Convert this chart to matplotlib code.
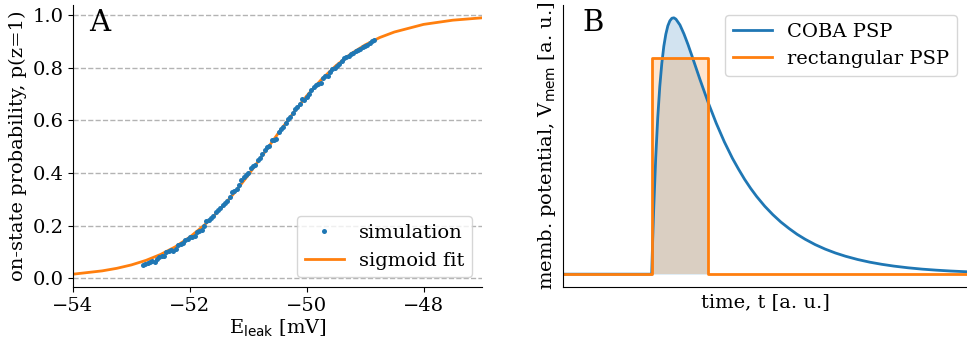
import matplotlib
matplotlib.use("Agg")
import matplotlib.pyplot as plt
import numpy as np

plt.rcParams["font.family"] = ["DejaVu Serif"]
plt.rcParams["font.size"] = 14
plt.rcParams["mathtext.fontset"] = "dejavusans"

# --- panel A: on-state probability vs leak potential ---
sim_e = [-52.80, -52.76, -52.72, -52.68, -52.64, -52.60, -52.56, -52.52, -52.48, -52.44,
         -52.40, -52.36, -52.32, -52.28, -52.24, -52.20, -52.16, -52.12, -52.08, -52.04,
         -52.00, -51.96, -51.92, -51.88, -51.84, -51.80, -51.76, -51.72, -51.68, -51.64,
         -51.60, -51.56, -51.52, -51.48, -51.44, -51.40, -51.36, -51.32, -51.28, -51.24,
         -51.20, -51.16, -51.12, -51.08, -51.04, -51.00, -50.96, -50.92, -50.88, -50.84,
         -50.80, -50.76, -50.72, -50.68, -50.64, -50.60, -50.56, -50.52, -50.48, -50.44,
         -50.40, -50.36, -50.32, -50.28, -50.24, -50.20, -50.16, -50.12, -50.08, -50.04,
         -50.00, -49.96, -49.92, -49.88, -49.84, -49.80, -49.76, -49.72, -49.68, -49.64,
         -49.60, -49.56, -49.52, -49.48, -49.44, -49.40, -49.36, -49.32, -49.28, -49.24,
         -49.20, -49.16, -49.12, -49.08, -49.04, -49.00, -48.96, -48.92, -48.88, -48.84]
sim_p = [0.050, 0.054, 0.058, 0.063, 0.066, 0.061, 0.072, 0.079, 0.083, 0.086,
         0.098, 0.104, 0.106, 0.104, 0.112, 0.125, 0.131, 0.135, 0.144, 0.149,
         0.155, 0.158, 0.160, 0.176, 0.181, 0.183, 0.197, 0.217, 0.222, 0.229,
         0.236, 0.252, 0.258, 0.265, 0.280, 0.286, 0.294, 0.310, 0.327, 0.330,
         0.338, 0.355, 0.372, 0.386, 0.392, 0.398, 0.420, 0.428, 0.432, 0.449,
         0.458, 0.472, 0.486, 0.497, 0.504, 0.525, 0.526, 0.528, 0.556, 0.566,
         0.574, 0.590, 0.605, 0.612, 0.628, 0.645, 0.650, 0.662, 0.680, 0.676,
         0.688, 0.702, 0.714, 0.728, 0.736, 0.740, 0.744, 0.762, 0.768, 0.770,
         0.784, 0.795, 0.801, 0.808, 0.814, 0.826, 0.838, 0.840, 0.845, 0.851,
         0.856, 0.862, 0.868, 0.873, 0.880, 0.884, 0.886, 0.895, 0.903, 0.906]

fit_e = [-54.0, -53.5, -53.25, -53.0, -52.75, -52.5, -52.25, -52.0, -51.75, -51.5,
         -51.25, -51.0, -50.75, -50.5, -50.25, -50.0, -49.75, -49.5, -49.25, -49.0,
         -48.75, -48.5, -48.0, -47.5, -47.0]
fit_p = [0.015, 0.0276, 0.0373, 0.0503, 0.0676, 0.0901, 0.119, 0.156, 0.202, 0.257,
         0.321, 0.392, 0.469, 0.547, 0.622, 0.693, 0.755, 0.808, 0.852, 0.887,
         0.915, 0.936, 0.965, 0.981, 0.990]

# --- panel B: PSP shapes ---
coba_t = [0.0, 2.19, 2.215, 2.24, 2.29, 2.34, 2.39, 2.44, 2.49, 2.54, 2.59, 2.64, 2.69, 2.74,
          2.79, 2.89, 2.99, 3.09, 3.19, 3.39, 3.594, 3.79, 3.99, 4.19, 4.34, 4.49, 4.64, 4.79,
          4.99, 5.19, 5.39, 5.59, 5.79, 5.99, 6.24, 6.49, 6.74, 6.99, 7.29, 7.59, 7.89,
          8.19, 8.54, 8.89, 9.24, 9.59, 10.0]
coba_v = [0.0, 0.0, 0.161, 0.303, 0.541, 0.726, 0.869, 0.976, 1.056, 1.112, 1.151, 1.174, 1.186, 1.188,
          1.182, 1.155, 1.113, 1.064, 1.010, 0.900, 0.793, 0.699, 0.613, 0.537, 0.487, 0.440, 0.398, 0.360,
          0.315, 0.276, 0.2416, 0.212, 0.185, 0.162, 0.137, 0.116, 0.0982, 0.0832, 0.0681, 0.0557, 0.0457,
          0.0374, 0.0296, 0.0234, 0.0186, 0.0147, 0.0112]
rect_t = [0.0, 2.19, 2.19, 3.594, 3.594, 10.0]
rect_v = [0.0, 0.0, 1.0, 1.0, 0.0, 0.0]

blue = "#1f77b4"
orange = "#ff7f0e"

fig = plt.figure(figsize=(9.67, 3.5), dpi=100)
ax1 = fig.add_axes([0.0755, 0.18, 0.4229, 0.8057])
ax2 = fig.add_axes([0.5825, 0.18, 0.4175, 0.8057])

ax1.plot(sim_e, sim_p, "o", color=blue, ms=3.6, mew=0, label="simulation", zorder=3)
ax1.plot(fit_e, fit_p, color=orange, lw=2, label="sigmoid fit", zorder=2)
ax1.set_xlim(-54, -47)
ax1.set_xticks([-54, -52, -50, -48])
ax1.set_yticks([0.0, 0.2, 0.4, 0.6, 0.8, 1.0])
ax1.yaxis.grid(True, ls="--", color="0.7", lw=1)
ax1.set_axisbelow(True)
ax1.set_xlabel(r"E$_\mathrm{leak}$ [mV]", labelpad=2)
ax1.set_ylabel("on-state probability, p(z=1)", labelpad=4)
ax1.legend(loc="lower right", numpoints=1)
ax1.text(0.04, 0.985, "A", transform=ax1.transAxes, fontsize=21, va="top")
for s in ["top", "right"]:
    ax1.spines[s].set_visible(False)

# shade only the window of the rectangular PSP
t_arr = np.array(coba_t)
win = (t_arr >= rect_t[1]) & (t_arr <= rect_t[3])
ax2.fill_between(t_arr[win], np.array(coba_v)[win], 0, color=blue, alpha=0.2, lw=0)
ax2.fill_between(rect_t, rect_v, 0, color=orange, alpha=0.2, lw=0)
ax2.plot(coba_t, coba_v, color=blue, lw=2, label="COBA PSP")
ax2.plot(rect_t, rect_v, color=orange, lw=2, label="rectangular PSP")
ax2.set_xlim(0, 10)
ax2.set_xticks([])
ax2.set_yticks([])
ax2.set_xlabel("time, t [a. u.]", labelpad=4)
ax2.set_ylabel(r"memb. potential, V$_\mathrm{mem}$ [a. u.]", labelpad=4)
ax2.legend(loc="upper right")
ax2.text(0.047, 0.985, "B", transform=ax2.transAxes, fontsize=21, va="top")
for s in ["top", "right"]:
    ax2.spines[s].set_visible(False)

fig.savefig("out.png", dpi=100)
